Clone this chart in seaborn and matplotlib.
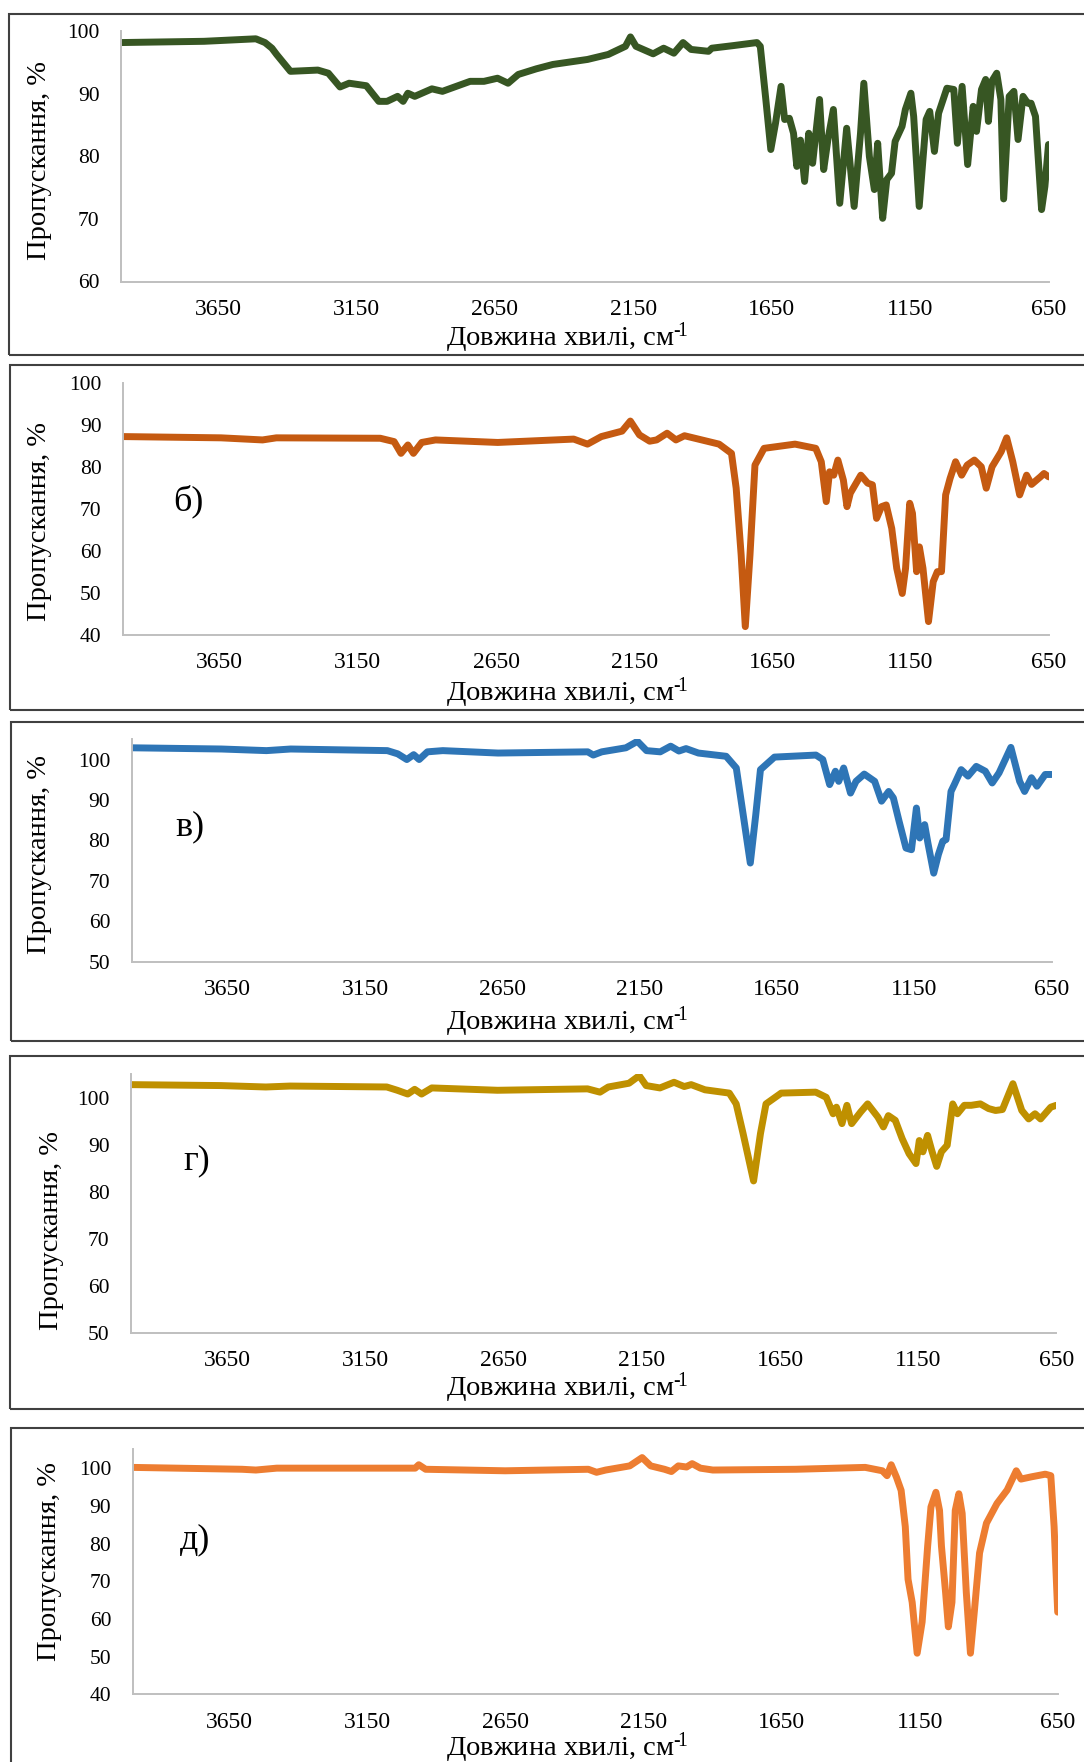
import matplotlib
matplotlib.use("Agg")
import matplotlib.pyplot as plt
import seaborn as sns
import pandas as pd
from matplotlib.patches import Rectangle

# ---------------- data ----------------
wn_a = [4000, 3700, 3513, 3480, 3455, 3438, 3388, 3289, 3251, 3209, 3176, 3114, 3069, 3039, 3001, 2981, 2964, 2939,
        2877, 2839, 2739, 2689, 2640, 2602, 2565, 2500, 2440, 2315, 2240, 2178, 2160, 2140, 2078, 2040,
        2003, 1970, 1941, 1878, 1866, 1791, 1703, 1691, 1671, 1653, 1636, 1616, 1603, 1586, 1571,
        1559, 1546, 1531, 1516, 1502, 1477, 1462, 1447, 1427, 1404, 1379, 1352, 1329, 1317, 1297,
        1279, 1267, 1249, 1234, 1217, 1204, 1179, 1167, 1147, 1137, 1117, 1092, 1079, 1062, 1047,
        1017, 992, 979, 962, 942, 922, 910, 892, 877, 867, 855, 837, 822, 812, 792, 775, 760, 742,
        725, 713, 697, 675, 663, 650]
tr_a = [98.2, 98.4, 98.8, 98.2, 97.3, 96.3, 93.6, 93.8, 93.3, 91.1, 91.7, 91.3, 88.8, 88.8, 89.6, 88.8, 90.1, 89.6,
        90.8, 90.4, 92.0, 92.0, 92.5, 91.7, 93.1, 94.0, 94.7, 95.5, 96.3, 97.6, 99.1, 97.6, 96.4, 97.3,
        96.5, 98.2, 97.1, 96.8, 97.3, 97.7, 98.2, 97.6, 89.1, 81.1, 85.3, 91.2, 85.9, 86.1, 83.7,
        78.4, 82.6, 76.0, 83.7, 78.9, 89.1, 77.9, 82.6, 87.5, 72.5, 84.5, 72.0, 83.7, 91.7, 80.0,
        74.7, 82.1, 70.1, 76.3, 77.3, 82.4, 84.8, 87.5, 90.1, 86.4, 72.0, 85.9, 87.2, 80.8, 86.9,
        90.9, 90.7, 82.1, 91.2, 78.7, 88.0, 84.0, 90.7, 92.3, 85.6, 92.0, 93.3, 89.1, 73.2, 89.6,
        90.4, 82.7, 89.6, 88.5, 88.5, 86.4, 71.5, 75.2, 81.9]

wn_b = [4000, 3645, 3495, 3445, 3069, 3019, 2994, 2969, 2949, 2919, 2869, 2644, 2369, 2319, 2269,
        2194, 2164, 2131, 2094, 2069, 2031, 1999, 1968, 1843, 1798, 1781, 1763, 1748, 1731, 1713,
        1680, 1568, 1493, 1473, 1455, 1443, 1428, 1413, 1393, 1380, 1368, 1330, 1305, 1288, 1273,
        1255, 1238, 1218, 1200, 1180, 1168, 1153, 1143, 1128, 1118, 1105, 1085, 1068, 1053, 1038,
        1023, 1007, 987, 965, 945, 919, 894, 876, 855, 822, 802, 780, 755, 730, 712, 680, 667, 650]
tr_b = [87.3, 87.0, 86.5, 87.0, 86.9, 86.1, 83.3, 85.3, 83.3, 85.9, 86.5, 85.9, 86.7, 85.5, 87.3,
        88.6, 91.0, 87.7, 86.2, 86.5, 88.1, 86.5, 87.5, 85.5, 83.3, 75.0, 59.1, 42.0, 59.1, 80.5,
        84.5, 85.5, 84.5, 81.3, 71.8, 78.9, 78.1, 81.7, 76.9, 70.6, 73.8, 78.1, 76.2, 75.8, 67.8,
        70.6, 71.0, 65.4, 55.9, 49.9, 55.9, 71.4, 69.0, 55.1, 61.0, 55.9, 43.2, 52.7, 55.1, 55.1,
        73.4, 77.3, 81.3, 78.1, 80.5, 81.7, 80.1, 75.0, 80.1, 83.7, 87.0, 81.3, 73.4, 78.1, 75.9,
        77.7, 78.5, 77.7]

wn_c = [4000, 3673, 3509, 3421, 3069, 3031, 2998, 2973, 2953, 2923, 2867, 2666, 2339, 2319, 2288,
        2200, 2158, 2125, 2075, 2037, 2007, 1981, 1936, 1835, 1798, 1773, 1747, 1727, 1710, 1659,
        1508, 1483, 1458, 1437, 1425, 1407, 1382, 1362, 1332, 1294, 1269, 1243, 1226, 1205, 1180,
        1160, 1142, 1130, 1112, 1100, 1079, 1062, 1046, 1034, 1016, 1004, 979, 954, 924, 891, 866,
        841, 798, 766, 748, 723, 703, 673, 650]
tr_c = [102.9, 102.6, 102.2, 102.6, 102.2, 101.4, 100.0, 101.2, 100.0, 101.9, 102.2, 101.6, 101.9,
        101.1, 101.9, 102.9, 104.5, 102.2, 101.9, 103.3, 102.1, 102.7, 101.6, 100.8, 97.9, 86.4,
        74.4, 86.4, 97.5, 100.6, 101.1, 100.0, 93.8, 97.1, 94.6, 97.9, 91.7, 94.6, 96.4, 94.6, 89.7,
        92.1, 90.5, 84.7, 78.1, 77.7, 88.0, 80.6, 83.9, 79.3, 71.9, 76.5, 79.8, 80.2, 92.1, 93.8,
        97.5, 95.9, 98.3, 97.1, 94.2, 96.7, 103.0, 94.6, 92.1, 95.5, 93.4, 96.3, 96.3]

wn_d = [4000, 3674, 3512, 3424, 3074, 3036, 2998, 2973, 2948, 2911, 2673, 2347, 2302, 2272, 2197,
        2160, 2135, 2085, 2034, 1997, 1972, 1922, 1834, 1809, 1784, 1746, 1721, 1701, 1646, 1521,
        1483, 1458, 1446, 1426, 1408, 1391, 1358, 1333, 1296, 1276, 1258, 1233, 1208, 1183, 1158,
        1146, 1133, 1116, 1101, 1083, 1066, 1045, 1025, 1008, 983, 958, 925, 895, 870, 845, 807,
        775, 750, 727, 707, 670, 650]
tr_d = [102.8, 102.6, 102.3, 102.5, 102.3, 101.6, 100.8, 101.8, 100.8, 102.1, 101.6, 101.9, 101.2,
        102.3, 103.1, 104.7, 102.6, 102.1, 103.3, 102.4, 102.8, 101.7, 101.0, 98.7, 92.4, 82.3,
        92.4, 98.7, 101.0, 101.2, 100.1, 96.6, 98.0, 94.5, 98.4, 94.5, 97.0, 98.7, 95.9, 93.8, 96.2,
        95.2, 91.3, 88.1, 86.0, 90.9, 88.5, 92.0, 88.8, 85.4, 88.5, 89.9, 98.7, 96.6, 98.4, 98.4,
        98.7, 97.7, 97.3, 97.5, 103.0, 97.3, 95.5, 96.6, 95.5, 98.0, 98.4]

wn_e = [4000, 3604, 3554, 3478, 2977, 2964, 2939, 2651, 2350, 2320, 2287, 2200, 2155, 2124, 2074,
        2049, 2024, 1994, 1974, 1944, 1899, 1598, 1347, 1285, 1268, 1253, 1234, 1217, 1202, 1192,
        1177, 1159, 1141, 1121, 1109, 1091, 1078, 1071, 1056, 1046, 1033, 1021, 1008, 996, 981,
        966, 951, 933, 908, 870, 833, 800, 783, 745, 695, 675, 663, 650]
tr_e = [100.2, 99.7, 99.5, 100.0, 100.0, 100.9, 99.7, 99.3, 99.7, 98.9, 99.5, 100.6, 102.8, 100.6,
        99.7, 99.1, 100.6, 100.3, 101.2, 100.0, 99.5, 99.7, 100.2, 99.3, 98.0, 100.9, 97.6, 94.1,
        84.5, 70.5, 64.4, 50.9, 59.2, 79.3, 89.7, 93.6, 88.8, 79.3, 67.0, 57.9, 64.4, 88.8, 93.2,
        88.0, 67.0, 50.9, 62.7, 77.5, 85.4, 90.6, 94.2, 99.3, 97.1, 97.7, 98.4, 98.0, 84.5, 61.8]

x_ticks = [3650, 3150, 2650, 2150, 1650, 1150, 650]
panel_letters = ["", "б)", "в)", "г)", "д)"]
y_label = "Пропускання, %"
x_label = "Довжина хвилі, см$^{\u2010\\!1}$"

# ---------------- style ----------------
sns.set_theme(style="white")
plt.rcParams["font.family"] = ["Liberation Serif", "DejaVu Serif"]
plt.rcParams["mathtext.fontset"] = "custom"
plt.rcParams["mathtext.rm"] = "Liberation Serif"
plt.rcParams["mathtext.it"] = "Liberation Serif"
plt.rcParams["mathtext.bf"] = "Liberation Serif:bold"
plt.rcParams["mathtext.default"] = "rm"

W, H = 1084, 1762
fig = plt.figure(figsize=(W / 100, H / 100), dpi=100)
fig.patch.set_facecolor("white")

panels = [
    dict(wn=wn_a, tr=tr_a, color="#375623", ylim=(60, 100), yt=range(60, 101, 10),
         ax=(121, 1048.5, 31.3, 281.5), box=(9, 13.7, 355), ylab=(39.7, 161), xlab_y=338,
         letter=None),
    dict(wn=wn_b, tr=tr_b, color="#C55A11", ylim=(40, 100), yt=range(40, 101, 10),
         ax=(123, 1048.7, 383.3, 635), box=(9.7, 365, 710), ylab=(40, 521.7), xlab_y=693,
         letter=(188, 501)),
    dict(wn=wn_c, tr=tr_c, color="#2E75B6", ylim=(50, 105), yt=range(50, 101, 10),
         ax=(131.7, 1051.5, 739.3, 961.7), box=(10.7, 721.7, 1040.7), ylab=(39.7, 854), xlab_y=1022,
         letter=(190, 827)),
    dict(wn=wn_d, tr=tr_d, color="#BF9000", ylim=(50, 105), yt=range(50, 101, 10),
         ax=(131, 1056.3, 1074.3, 1332.7), box=(10.3, 1055.7, 1409), ylab=(52, 1231), xlab_y=1388,
         letter=(197, 1161)),
    dict(wn=wn_e, tr=tr_e, color="#ED7D31", ylim=(40, 105), yt=range(40, 101, 10),
         ax=(132.7, 1057.7, 1449.3, 1694.3), box=(10.7, 1428.3, 1800), ylab=(50, 1561.7), xlab_y=1748,
         letter=(195, 1540)),
]

for i, p in enumerate(panels):
    # panel frame
    bx, btop, bbot = p["box"]
    fig.patches.append(Rectangle((bx / W, 1 - bbot / H), (W + 50 - bx) / W, (bbot - btop) / H,
                                 transform=fig.transFigure, fill=False,
                                 edgecolor="#404040", linewidth=1.5, zorder=0))
    L, R, T, B = p["ax"]
    ax = fig.add_axes([L / W, 1 - B / H, (R - L) / W, (B - T) / H])
    df = pd.DataFrame({"wn": p["wn"], "tr": p["tr"]})
    sns.lineplot(data=df, x="wn", y="tr", ax=ax, color=p["color"], linewidth=5.0,
                 estimator=None, sort=False)
    for ln in ax.lines:
        ln.set_solid_joinstyle("round")
        ln.set_solid_capstyle("round")
    ax.set_xlim(4000, 650)
    ax.set_ylim(*p["ylim"])
    ax.set_xticks(x_ticks)
    ax.set_xticklabels([str(t) for t in x_ticks])
    ax.set_yticks(list(p["yt"]))
    ax.set_yticklabels([str(t) for t in p["yt"]])
    ax.tick_params(axis="x", length=0, pad=12.5, labelsize=17, colors="black")
    ax.tick_params(axis="y", length=0, pad=15.5, labelsize=15.5, colors="black")
    for s in ["top", "right"]:
        ax.spines[s].set_visible(False)
    for s in ["left", "bottom"]:
        ax.spines[s].set_color("#BFBFBF")
        ax.spines[s].set_linewidth(1.4)
    ax.grid(False)
    ax.set_facecolor("none")

    ax.set_ylabel(y_label, fontsize=20.5, color="black", va="center", ha="center")
    lx, ly = p["ylab"]
    ax.yaxis.set_label_coords(lx / W, 1 - ly / H, transform=fig.transFigure)
    ax.set_xlabel(x_label, fontsize=20.5, color="black", va="center", ha="center")
    ax.xaxis.set_label_coords(567 / W, 1 - p["xlab_y"] / H, transform=fig.transFigure)

    if p["letter"] is not None:
        tx, ty = p["letter"]
        fig.text(tx / W, 1 - ty / H, panel_letters[i], fontsize=26, ha="center", va="center",
                 color="black")

fig.savefig("out.png", dpi=100, facecolor="white")
